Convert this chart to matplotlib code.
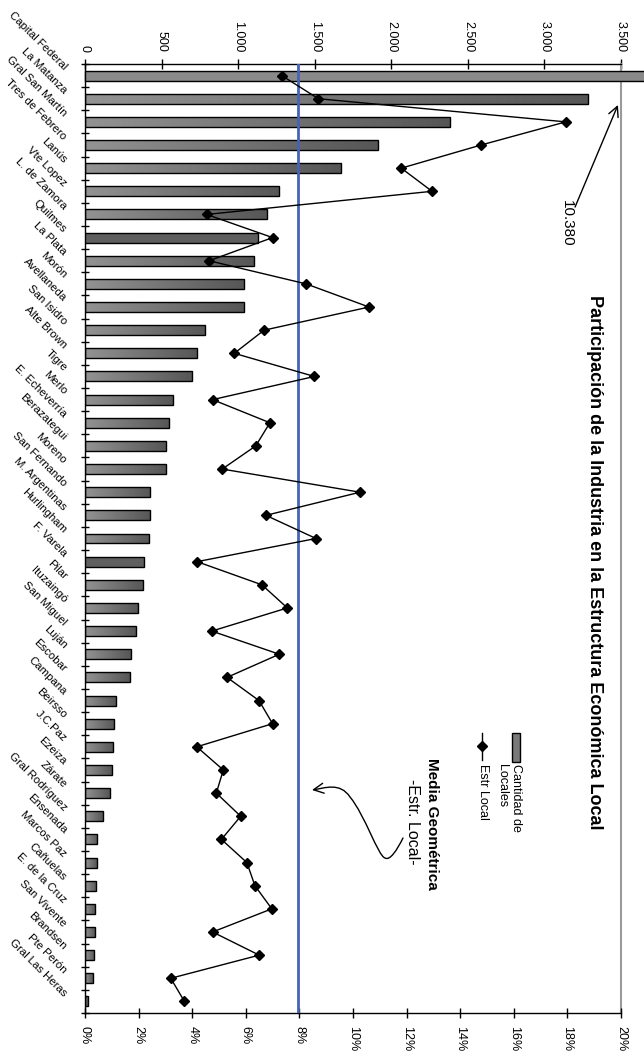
import numpy as np
import matplotlib
matplotlib.use('Agg')
import matplotlib.pyplot as plt
import matplotlib.transforms as mtransforms
from matplotlib.patches import Rectangle, FancyArrowPatch
from matplotlib.path import Path
from matplotlib.lines import Line2D
from matplotlib.colors import LinearSegmentedColormap

plt.rcParams['font.family'] = ['Liberation Sans', 'DejaVu Sans']

# ---------------- data ----------------
partidos = ["Capital Federal", "La Matanza", "Gral San Martín", "Tres de Febrero", "Lanús",
            "Vte Lopez", "L. de Zamora", "Quilmes", "La Plata", "Morón", "Avellaneda",
            "San Isidro", "Alte Brown", "Tigre", "Merlo", "E. Echeverría", "Berazategui",
            "Moreno", "San Fernando", "M. Argentinas", "Hurlingham", "F. Varela", "Pilar",
            "Ituzaingó", "San Miguel", "Luján", "Escobar", "Campana", "Beirsso", "J.C.Paz",
            "Ezeiza", "Zárate", "Gral Rodríguez", "Ensenada", "Marcos Paz", "Cañuelas",
            "E. de la Cruz", "San Vivente", "Brandsen", "Pte Perón", "Gral Las Heras"]
cantidad_locales = [10380, 3287, 2384, 1912, 1672, 1269, 1187, 1132, 1106, 1041, 1036,
                    784, 734, 701, 573, 551, 527, 527, 425, 425, 418, 385, 379, 348, 331,
                    298, 292, 200, 192, 185, 174, 161, 115, 80, 76, 72, 65, 65, 59, 52, 17]
estr_local = [7.34, 8.71, 17.94, 14.78, 11.80, 12.95, 4.54, 7.00, 4.63, 8.25, 10.60,
              6.68, 5.57, 8.56, 4.76, 6.90, 6.37, 5.12, 10.26, 6.75, 8.62, 4.18, 6.60,
              7.55, 4.73, 7.25, 5.30, 6.49, 7.00, 4.17, 5.16, 4.90, 5.81, 5.09, 6.04,
              6.34, 6.97, 4.76, 6.50, 3.20, 3.71]
media_geometrica = 7.95
count_ticks = [0, 500, 1000, 1500, 2000, 2500, 3000, 3500]
count_tick_labels = ["0", "500", "1.000", "1.500", "2.000", "2.500", "3.000", "3.500"]
pct_ticks = [0, 2, 4, 6, 8, 10, 12, 14, 16, 18, 20]
pct_tick_labels = ["0%", "2%", "4%", "6%", "8%", "10%", "12%", "14%", "16%", "18%", "20%"]
etiqueta_max = "10.380"

# ---------------- figure ----------------
W, H = 644, 1056
fig = plt.figure(figsize=(W / 100, H / 100), dpi=100)


def fx(px):
    return px / W


def fy(py):
    return 1 - py / H


ax = fig.add_axes([fx(85), fy(1013), (621 - 85) / W, (1013 - 64) / H])
n = len(partidos)
y = np.arange(n)

bars = ax.barh(y, cantidad_locales, height=0.43, facecolor='none',
               edgecolor='black', linewidth=1.0, zorder=3)
cmap = LinearSegmentedColormap.from_list('g', ['#939393', '#565656'])
grad = np.linspace(0, 1, 256).reshape(1, -1)
dark_bars = {7, 21}
for i, b in enumerate(bars):
    x0, y0 = b.get_x(), b.get_y()
    w, h = b.get_width(), b.get_height()
    if i == 0:
        b.set_facecolor('#8a8a8a')
        b.set_clip_on(False)
        continue
    if i in dark_bars:
        b.set_facecolor('#5f5f5f')
        continue
    im = ax.imshow(grad, cmap=cmap, vmin=0, vmax=1, extent=[x0, x0 + w, y0 + h, y0],
                   aspect='auto', interpolation='bilinear', zorder=2)
    im.set_clip_path(b)

ax.set_xlim(0, 3500)
ax.set_ylim(n - 0.5, -0.5)

ax2 = ax.twiny()
ax2.set_xlim(0, 20)
ax2.set_ylim(n - 0.5, -0.5)
ax.xaxis.tick_top()
ax2.xaxis.tick_bottom()

ax.set_xticks(count_ticks)
ax.set_xticklabels(count_tick_labels, rotation=-90, fontsize=9)
ax.tick_params(axis='x', direction='inout', length=7, width=1, pad=5)

ax.set_yticks(y)
ax.set_yticklabels(partidos, rotation=-45, ha='right', va='center',
                   rotation_mode='anchor', fontsize=8.2)
ax.tick_params(axis='y', which='major', length=0, pad=13)
ax.set_yticks(np.arange(-0.5, n, 1.0), minor=True)
ax.tick_params(axis='y', which='minor', direction='inout', length=6, width=1)
shift = mtransforms.ScaledTranslation(-2 / 100, 7 / 100, fig.dpi_scale_trans)
for lab in ax.get_yticklabels():
    lab.set_transform(lab.get_transform() + shift)

ax2.set_xticks(pct_ticks)
ax2.set_xticklabels(pct_tick_labels, rotation=-90, fontsize=9)
ax2.tick_params(axis='x', direction='inout', length=7, width=1, pad=6)

for s in ['top', 'left']:
    ax.spines[s].set_color('black')
    ax.spines[s].set_linewidth(1)
ax.spines['bottom'].set_visible(False)
ax.spines['right'].set_color('#9a9a9a')
ax.spines['right'].set_linewidth(1.5)
for s in ['top', 'left', 'right']:
    ax2.spines[s].set_visible(False)
ax2.spines['bottom'].set_color('black')
ax2.spines['bottom'].set_linewidth(1)

ax2.axvline(media_geometrica, color='#4464b4', lw=2, zorder=3)
ax2.plot(estr_local, y, color='black', lw=1, marker='D', ms=5, zorder=4)

# annotation for overflowing bar
ax.text(3147, 5.37, etiqueta_max, rotation=-90, ha='center', va='top', fontsize=11)
ax.annotate('', xy=(3480, 1.27), xytext=(3200, 5.68),
            arrowprops=dict(arrowstyle='->', lw=1, color='black',
                            mutation_scale=18, shrinkA=0, shrinkB=0))

# title
fig.text(fx(595), fy(562), "Participación de la Industria en la Estructura Económica Local",
         rotation=-90, ha='center', va='center', fontsize=13, fontweight='bold')

# legend (rotated)
fig.add_artist(Rectangle((fx(512), fy(762)), 8 / W, 29 / H, transform=fig.transFigure,
                         facecolor='#7a7a7a', edgecolor='black', lw=1))
fig.add_artist(Line2D([fx(482), fx(482)], [fy(733), fy(760)], color='black', lw=1,
                      transform=fig.transFigure))
fig.add_artist(Line2D([fx(482)], [fy(746)], marker='D', ms=5, color='black',
                      transform=fig.transFigure))
fig.text(fx(516), fy(764), "Cantidad de", rotation=-90, ha='center', va='top', fontsize=9)
fig.text(fx(502), fy(764), "Locales", rotation=-90, ha='center', va='top', fontsize=9)
fig.text(fx(483), fy(764), "Estr Local", rotation=-90, ha='center', va='top', fontsize=9)

# media geometrica note
fig.text(fx(432), fy(758), "Media Geométrica", rotation=-90, ha='center', va='top',
         fontsize=11, fontweight='bold')
fig.text(fx(413), fy(779), "-Estr. Local-", rotation=-90, ha='center', va='top', fontsize=11.5)

pts = [(403, 838), (397, 850), (390, 861), (385, 858),
       (378, 856), (365, 815), (350, 797),
       (340, 782), (325, 788), (312, 790)]
codes = [Path.MOVETO] + [Path.CURVE4] * 9
path = Path([(fx(a), fy(b)) for a, b in pts], codes)
fig.add_artist(FancyArrowPatch(path=path, arrowstyle='->', mutation_scale=18, lw=1,
                               color='black', transform=fig.transFigure))

fig.savefig('out.png', dpi=100)
